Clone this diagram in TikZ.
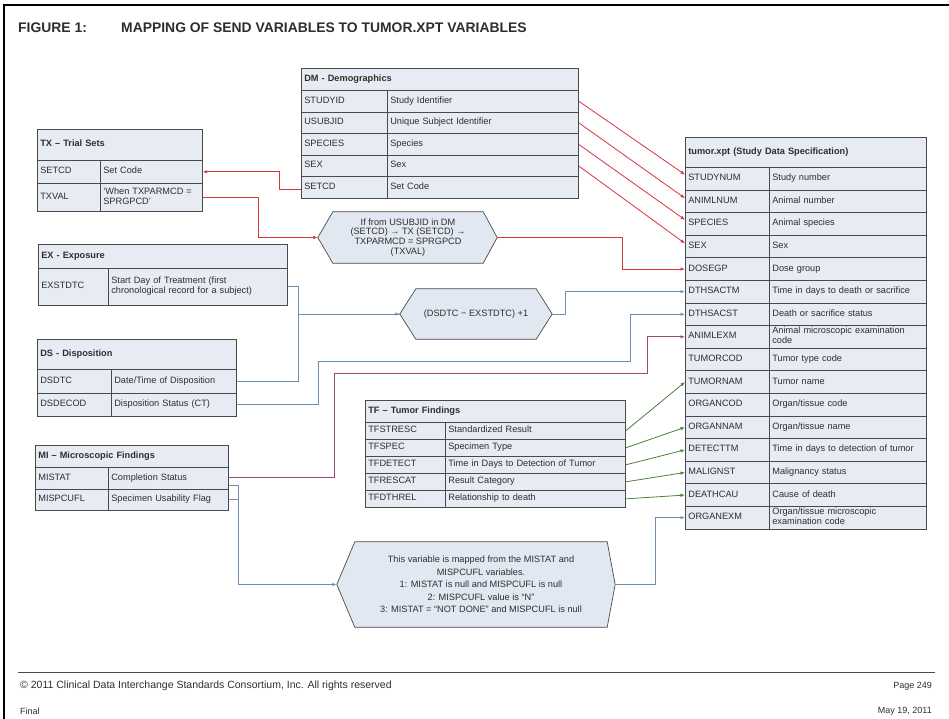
\documentclass[tikz,border=0pt]{standalone}
\usepackage{fontspec}
\setmainfont{Liberation Sans}
\usetikzlibrary{arrows.meta}
\pgfdeclarelayer{background}
\pgfsetlayers{background,main}

\definecolor{boxline}{HTML}{4A4A4A}
\definecolor{boxfill}{HTML}{E7EBF3}
\definecolor{hexfill}{HTML}{E2E8F2}
\definecolor{txt}{HTML}{2E2E2E}
\definecolor{linkred}{HTML}{D8343C}
\definecolor{linkblue}{HTML}{6F8FAE}
\definecolor{linkpurple}{HTML}{9A4A78}
\definecolor{linkgreen}{HTML}{4F7F3C}

\newcommand\cellfont{\fontsize{9.2}{9.8}\selectfont}

% one table: name, left x, column divider x, right x, top y,
% header height, row height, header text, rows key/description
\newcommand\datatable[9]{%
  \pgfmathsetmacro\tbwa{#3-#2-6}%
  \pgfmathsetmacro\tbwb{#4-#3-6}%
  \pgfmathsetmacro\tbwh{#4-#2-6}%
  \node[hdrcell, text width=\tbwh pt, minimum height=#6pt, anchor=north west] (#1) at (#2,#5) {\strut#8\strut};
  \foreach \k/\d [count=\i] in {#9} {
    \node[keycell, text width=\tbwa pt, minimum height=#7pt, anchor=north west]
      (#1-\i) at (#2,{#5+#6+(\i-1)*#7}) {\strut\k\strut};
    \node[desccell, text width=\tbwb pt, minimum height=#7pt, anchor=north west]
      (#1-\i d) at (#3,{#5+#6+(\i-1)*#7}) {\strut\d\strut};
  }%
}

\tikzset{
  tbl/.style={draw=boxline, fill=boxfill, line width=0.7pt, inner xsep=3pt,
    inner ysep=0pt, align=left, font=\cellfont, text=txt},
  hdrcell/.style={tbl, font=\cellfont\bfseries},
  keycell/.style={tbl},
  desccell/.style={tbl},
  hexbody/.style={align=center, font=\cellfont, text=txt, inner sep=0pt},
  hexshape/.style={draw=boxline, fill=hexfill, line width=0.7pt},
  link/.style={line width=0.8pt, -{Latex[length=4.5pt,width=3.5pt]}},
  redlink/.style={link, draw=linkred, color=linkred},
  bluelink/.style={link, draw=linkblue, color=linkblue},
  purplelink/.style={link, draw=linkpurple, color=linkpurple},
  greenlink/.style={link, draw=linkgreen, color=linkgreen},
  plainblue/.style={line width=0.8pt, draw=linkblue},
  pagetext/.style={font=\fontsize{9}{10}\selectfont, text=txt, inner sep=0pt},
}

\begin{document}
\begin{tikzpicture}[x=1pt,y=-1pt]
\useasboundingbox (0,0) rectangle (949,719);

% page frame
\draw[line width=1.6pt] (4,719) -- (4,5) -- (949,5);

% title
\node[anchor=west, font=\fontsize{13.9}{15}\selectfont\bfseries, text=txt, inner sep=0pt] (fig) at (18,28) {FIGURE 1:};
\node[anchor=west, font=\fontsize{13.9}{15}\selectfont\bfseries, text=txt, inner sep=0pt] (title) at (121,28) {MAPPING OF SEND VARIABLES TO TUMOR.XPT VARIABLES};

% source domains
\datatable{dm}{301}{387}{578}{68}{22}{21.6}{DM - Demographics}
  {STUDYID/Study Identifier, USUBJID/Unique Subject Identifier, SPECIES/Species, SEX/Sex, SETCD/Set Code}

% trial sets: the second row is taller than the first
\node[hdrcell, text width=159pt, minimum height=31pt, anchor=north west] (tx) at (37,129) {\strut TX -- Trial Sets\strut};
\node[keycell, text width=57pt, minimum height=23pt, anchor=north west] (tx-1) at (37,160) {\strut SETCD\strut};
\node[desccell, text width=96pt, minimum height=23pt, anchor=north west] (tx-1d) at (100,160) {\strut Set Code\strut};
\node[keycell, text width=57pt, minimum height=28pt, anchor=north west] (tx-2) at (37,183) {\strut TXVAL\strut};
\node[desccell, text width=96pt, minimum height=28pt, anchor=north west] (tx-2d) at (100,183) {\strut `When TXPARMCD =\\ SPRGPCD'\strut};

\datatable{ex}{38}{108}{287}{244}{24}{37}{EX - Exposure}
  {EXSTDTC/{Start Day of Treatment (first\\ chronological record for a subject)}}
\datatable{ds}{37}{111}{236}{339}{30}{23.5}{DS - Disposition}
  {DSDTC/{Date/Time of Disposition}, DSDECOD/Disposition Status (CT)}
\datatable{tf}{365}{445}{625}{400}{22}{17}{TF -- Tumor Findings}
  {TFSTRESC/Standardized Result, TFSPEC/Specimen Type, TFDETECT/Time in Days to Detection of Tumor,
   TFRESCAT/Result Category, TFDTHREL/Relationship to death}
\datatable{mi}{35}{108}{228}{445}{22}{21.5}{MI -- Microscopic Findings}
  {MISTAT/Completion Status, MISPCUFL/Specimen Usability Flag}

% target dataset
\datatable{tum}{685}{769}{926}{137}{30}{22.6}{tumor.xpt (Study Data Specification)}
  {STUDYNUM/Study number, ANIMLNUM/Animal number, SPECIES/Animal species, SEX/Sex,
   DOSEGP/Dose group, DTHSACTM/Time in days to death or sacrifice,
   DTHSACST/Death or sacrifice status, ANIMLEXM/{Animal microscopic examination\\ code},
   TUMORCOD/Tumor type code, TUMORNAM/Tumor name, ORGANCOD/{Organ/tissue code},
   ORGANNAM/{Organ/tissue name}, DETECTTM/Time in days to detection of tumor,
   MALIGNST/Malignancy status, DEATHCAU/Cause of death,
   ORGANEXM/{Organ/tissue microscopic\\ examination code}}

% derivation rules
\node[hexbody, minimum width=150pt, minimum height=51pt] (h1) at (408,237.5)
  {If from USUBJID in DM\\ (SETCD) → TX (SETCD) →\\ TXPARMCD = SPRGPCD\\ (TXVAL)};
\coordinate (h1l) at ([xshift=-15pt]h1.west);
\coordinate (h1r) at ([xshift=14pt]h1.east);

\node[hexbody, minimum width=120pt, minimum height=50pt] (h2) at (476,314)
  {(DSDTC − EXSTDTC) +1};
\coordinate (h2l) at ([xshift=-16pt]h2.west);
\coordinate (h2r) at ([xshift=16pt]h2.east);

\node[hexbody, minimum width=252pt, minimum height=85pt, font=\fontsize{9.2}{12.5}\selectfont] (h3) at (481,584.5)
  {This variable is mapped from the MISTAT and\\ MISPCUFL variables.\\
   1: MISTAT is null and MISPCUFL is null\\ 2: MISPCUFL value is ``N''\\
   3: MISTAT = ``NOT DONE'' and MISPCUFL is null};
\coordinate (h3l) at ([xshift=-18pt]h3.west);
\coordinate (h3r) at ([xshift=8pt]h3.east);

\begin{pgfonlayer}{background}
  \foreach \h in {h1,h2,h3}
    \filldraw[hexshape] (\h.north west) -- (\h.north east) -- (\h r) -- (\h.south east)
      -- (\h.south west) -- (\h l) -- cycle;
\end{pgfonlayer}

% DM to tumor.xpt
\draw[redlink] (dm-1d.east) -- ([yshift=4pt]tum-1.west);
\draw[redlink] (dm-2d.east) -- ([yshift=3pt]tum-2.west);
\draw[redlink] (dm-3d.east) -- ([yshift=4pt]tum-3.west);
\draw[redlink] (dm-4d.east) -- ([yshift=3pt]tum-4.west);
% dose group through trial sets
\draw[redlink] ([yshift=-2pt]dm-5.west) -- ++(-22,0) |- (tx-1d.east);
\draw[redlink] (tx-2d.east) -- ++(56,0) |- (h1l);
\draw[redlink] (h1r) -- ++(125,0) |- (tum-5.west);

% study days to death
\draw[plainblue] (ex-1d.east) -- ++(11,0) |- (h2l);
\draw[bluelink] (ds-1d.east) -- ++(62,0) |- (h2l);
\draw[bluelink] (h2r) -- ++(13,0) |- (tum-6.west);
\draw[bluelink] (ds-2d.east) -- ++(82,0) -- ++(0,-43) -- ++(312,0) |- (tum-7.west);

% microscopic findings
\draw[purplelink] ([yshift=1pt]mi-1d.east) -- ++(106,0) -- ++(0,-104) -- ++(313,0) |- (tum-8.west);
\draw[bluelink] ([yshift=-7pt]mi-1d.east) -- ++(10,0) |- (h3l);
\draw[plainblue] (mi-2d.east) -- ++(10,0);
\draw[bluelink] (h3r) -- ++(40,0) |- (tum-16.west);

% tumor findings
\draw[greenlink] (tf-1d.east) -- (tum-10.west);
\draw[greenlink] (tf-2d.east) -- (tum-12.west);
\draw[greenlink] (tf-3d.east) -- (tum-13.west);
\draw[greenlink] (tf-4d.east) -- (tum-14.west);
\draw[greenlink] (tf-5d.east) -- (tum-15.west);

% footer
\coordinate (fl) at (18,672);
\coordinate (fr) at (935,672);
\draw[line width=0.8pt, draw=boxline] (fl) -- (fr);
\node[pagetext, anchor=west, font=\fontsize{10.5}{11}\selectfont] (copy) at (20,686) {© 2011 Clinical Data Interchange Standards Consortium, Inc. All rights reserved};
\node[pagetext, anchor=east] (page) at (932,686) {Page 249};
\node[pagetext, anchor=west] (final) at (20,711) {Final};
\node[pagetext, anchor=east] (date) at (932,711) {May 19, 2011};
\end{tikzpicture}
\end{document}
